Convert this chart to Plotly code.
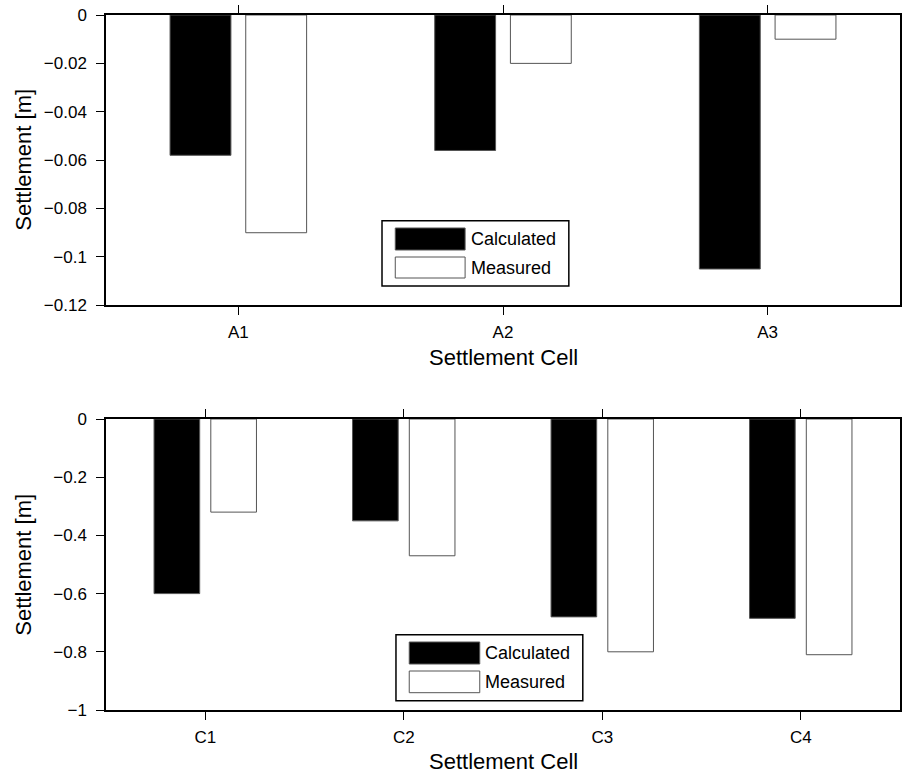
import plotly.graph_objects as go
from plotly.subplots import make_subplots

# ---- data ----
cells_a = ["A1", "A2", "A3"]
calc_a = [-0.058, -0.056, -0.105]
meas_a = [-0.090, -0.020, -0.010]

cells_c = ["C1", "C2", "C3", "C4"]
calc_c = [-0.60, -0.35, -0.68, -0.685]
meas_c = [-0.32, -0.47, -0.80, -0.81]

yticks_a = [0, -0.02, -0.04, -0.06, -0.08, -0.1, -0.12]
yticklabels_a = ["0", "\u22120.02", "\u22120.04", "\u22120.06", "\u22120.08", "\u22120.1", "\u22120.12"]
yticks_c = [0, -0.2, -0.4, -0.6, -0.8, -1]
yticklabels_c = ["0", "\u22120.2", "\u22120.4", "\u22120.6", "\u22120.8", "\u22121"]

series_names = ["Calculated", "Measured"]
y_label = "Settlement [m]"
x_label = "Settlement Cell"

# ---- layout constants (page pixels; body margin removed) ----
W, H = 904, 776
ML, MR, MT, MB = 106, 2, 15, 66
PW, PH = W - ML - MR, H - MT - MB
FONT = "Liberation Sans, Arial, Helvetica, sans-serif"
TICK_SIZE = 17
LEG_SIZE = 18
TITLE_SIZE = 22


def px_x(px):
    return (px - ML) / PW


def px_y(py):
    return (H - MB - py) / PH


fig = make_subplots(rows=2, cols=1, vertical_spacing=0.0)

BW = 0.23
for row, (cats, calc, meas) in enumerate([(cells_a, calc_a, meas_a), (cells_c, calc_c, meas_c)], start=1):
    fig.add_trace(go.Bar(x=cats, y=calc, name=series_names[0], width=BW, offset=-0.143 - BW / 2,
                         marker=dict(color="black", line=dict(color="#555555", width=1)),
                         showlegend=False, hoverinfo="skip"), row=row, col=1)
    fig.add_trace(go.Bar(x=cats, y=meas, name=series_names[1], width=BW, offset=0.143 - BW / 2,
                         marker=dict(color="white", line=dict(color="#555555", width=1)),
                         showlegend=False, hoverinfo="skip"), row=row, col=1)

top_dom = [px_y(305.3), 1.0]
bot_dom = [0.0, px_y(419)]

axis_common = dict(showline=True, linecolor="black", linewidth=1.5, ticks="outside", ticklen=8,
                   tickwidth=1, tickcolor="black", showgrid=False, zeroline=False,
                   tickfont=dict(family=FONT, size=TICK_SIZE, color="black"))

fig.update_xaxes(**axis_common, mirror="ticks", range=[-0.5, 2.5], domain=[0, 1], ticklabelstandoff=3,
                 row=1, col=1)
fig.update_xaxes(**axis_common, mirror="ticks", range=[-0.5, 3.5], domain=[0, 1], ticklabelstandoff=3,
                 row=2, col=1)
fig.update_yaxes(**axis_common, mirror=True, range=[-0.12, 0], tickvals=yticks_a, ticktext=yticklabels_a,
                 ticklabelstandoff=6, domain=top_dom, row=1, col=1)
fig.update_yaxes(**axis_common, mirror=True, range=[-1, 0], tickvals=yticks_c, ticktext=yticklabels_c,
                 ticklabelstandoff=6, domain=bot_dom, row=2, col=1)

shapes = []
annotations = []

# axis titles
for ty, yc in [(357, 160), (761.5, 565)]:
    annotations.append(dict(xref="paper", yref="paper", x=px_x(505), y=px_y(ty), text=x_label,
                            showarrow=False, xanchor="center", yanchor="middle",
                            font=dict(family=FONT, size=TITLE_SIZE, color="black")))
    annotations.append(dict(xref="paper", yref="paper", x=px_x(22.5), y=px_y(yc), text=y_label,
                            showarrow=False, xanchor="center", yanchor="middle", textangle=-90,
                            font=dict(family=FONT, size=TITLE_SIZE, color="black")))


def add_legend(box, sw1, sw2, text_x):
    x0, y0, x1, y1 = box
    shapes.append(dict(type="rect", xref="paper", yref="paper", x0=px_x(x0), x1=px_x(x1),
                       y0=px_y(y1), y1=px_y(y0), line=dict(color="black", width=1.5),
                       fillcolor="white", layer="above"))
    for (sx0, sy0, sx1, sy1), fill, name in [(sw1, "black", series_names[0]), (sw2, "white", series_names[1])]:
        shapes.append(dict(type="rect", xref="paper", yref="paper", x0=px_x(sx0), x1=px_x(sx1),
                           y0=px_y(sy1), y1=px_y(sy0), line=dict(color="#555555", width=1),
                           fillcolor=fill, layer="above"))
        annotations.append(dict(xref="paper", yref="paper", x=px_x(text_x), y=px_y((sy0 + sy1) / 2),
                                text=name, showarrow=False, xanchor="left", yanchor="middle",
                                font=dict(family=FONT, size=LEG_SIZE, color="black")))


add_legend((382.7, 220.7, 570, 286), (396, 228, 466, 250), (396, 257, 466, 278), 470)
add_legend((396.7, 634.7, 584, 700.7), (410, 642, 480.7, 664), (410, 671, 480.7, 692.7), 484)

fig.update_layout(width=W, height=H, margin=dict(l=ML, r=MR, t=MT, b=MB),
                  plot_bgcolor="white", paper_bgcolor="white", barmode="overlay",
                  shapes=shapes, annotations=annotations, hovermode=False,
                  font=dict(family=FONT, color="black"))

fig.write_html("out.html", config={"displayModeBar": False},
               post_script="document.body.style.margin='0px';document.body.style.overflow='hidden';")
